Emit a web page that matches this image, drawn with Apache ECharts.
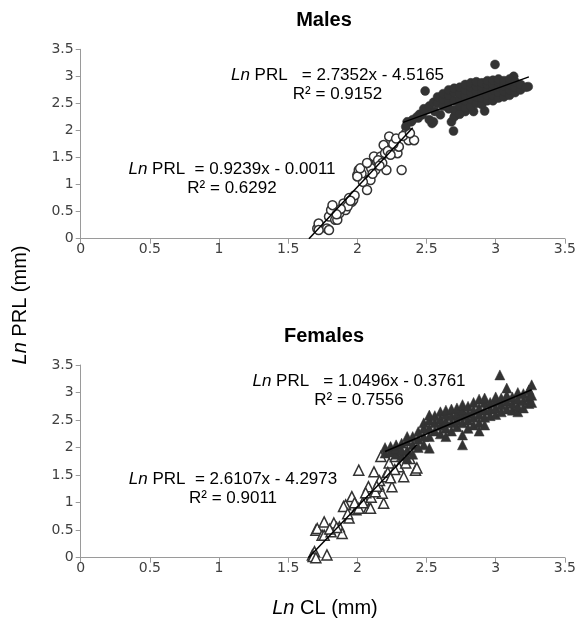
<!DOCTYPE html>
<html>
<head>
<meta charset="utf-8">
<script src="https://cdn.jsdelivr.net/npm/echarts@6/dist/echarts.min.js"></script>
<style>
  html, body { margin: 0; padding: 0; background: #fff; }
  #main { width: 579px; height: 621px; }
</style>
</head>
<body>
<div id="main"></div>
<script>
// axis ticks
var xTicks = [0, 0.5, 1, 1.5, 2, 2.5, 3, 3.5];
var yTicks = [0, 0.5, 1, 1.5, 2, 2.5, 3, 3.5];

// Males - juveniles (open circles)
var maleJuv = [[1.71,0.19],[1.72,0.28],[1.78,0.19],[1.795,0.16],[1.72,0.16],[1.795,0.41],[1.81,0.53],[1.82,0.62],
  [1.84,0.35],[1.855,0.35],[1.87,0.47],[1.90,0.65],[1.915,0.53],[1.94,0.75],[1.96,0.68],[1.93,0.60],[1.88,0.55],
  [1.97,0.72],[2.0,1.18],[2.01,1.27],[2.05,1.12],[2.06,1.24],[2.07,0.90],[2.095,1.085],[2.08,1.39],[2.12,1.52],
  [2.13,1.27],[2.155,1.39],[2.17,1.52],[2.19,1.73],[2.20,1.58],[2.21,1.27],[2.23,1.89],[2.25,1.67],[2.275,1.79],
  [2.29,1.58],[2.30,1.70],[2.32,1.27],[2.35,1.95],[2.37,1.82],[2.41,1.82],[2.03,1.20],[2.04,1.05],[2.10,1.30],
  [2.15,1.45],[2.18,1.40],[2.22,1.62],[2.26,1.75],[2.28,1.85],[2.24,1.55],[2.16,1.35],[2.11,1.20],[1.98,0.80],
  [1.95,0.70],[1.85,0.45],[2.33,1.90],[2.38,1.95],[2.0,1.15],[2.02,1.30],[2.07,1.40]];

// Males - adults (filled circles)
var maleAdult = [[2.995,3.22],[2.49,2.73],[3.13,3.0],[3.235,2.81],[2.92,2.36],[2.84,2.35],[2.695,1.99],[2.68,2.16],
  [2.71,2.29],[2.515,2.40],[2.50,2.38],[2.44,2.23],[2.47,2.29],[2.36,2.16],[2.35,2.07],[2.39,2.16],[2.54,2.13],
  [2.55,2.16],[2.60,2.29],[2.635,2.47],[2.67,2.595],[2.74,2.72],[2.78,2.35],
  [2.45,2.30],[2.48,2.40],[2.52,2.45],[2.55,2.52],[2.56,2.35],[2.43,2.25],[2.40,2.20],[2.52,2.20],
  [2.58,2.50],[2.58,2.62],[2.62,2.45],[2.62,2.58],[2.62,2.68],[2.66,2.40],[2.66,2.52],[2.66,2.65],[2.66,2.75],
  [2.70,2.25],[2.70,2.38],[2.70,2.55],[2.70,2.70],[2.70,2.78],[2.74,2.30],[2.74,2.45],[2.74,2.58],[2.74,2.68],[2.74,2.80],
  [2.78,2.42],[2.78,2.55],[2.78,2.65],[2.78,2.75],[2.78,2.85],[2.82,2.45],[2.82,2.58],[2.82,2.70],[2.82,2.80],[2.82,2.88],
  [2.86,2.50],[2.86,2.62],[2.86,2.72],[2.86,2.82],[2.86,2.90],[2.90,2.48],[2.90,2.60],[2.90,2.70],[2.90,2.80],[2.90,2.88],
  [2.94,2.55],[2.94,2.65],[2.94,2.75],[2.94,2.85],[2.94,2.92],[2.98,2.55],[2.98,2.65],[2.98,2.75],[2.98,2.85],[2.98,2.93],
  [3.02,2.60],[3.02,2.70],[3.02,2.80],[3.02,2.90],[3.02,2.95],[3.06,2.62],[3.06,2.72],[3.06,2.82],[3.06,2.92],
  [3.10,2.65],[3.10,2.75],[3.10,2.85],[3.10,2.95],[3.14,2.70],[3.14,2.80],[3.14,2.90],[3.18,2.75],[3.18,2.85],[3.22,2.80]];

// Females - juveniles (open triangles)
var femJuv = [[1.675,0.05],[1.69,0.11],[1.68,0.02],[1.70,0.0],[1.78,0.05],[1.70,0.50],[1.71,0.53],[1.76,0.65],
  [1.745,0.41],[1.76,0.41],[1.81,0.47],[1.83,0.63],[1.87,0.56],[1.89,0.44],[1.915,0.96],[1.90,0.93],[1.94,0.72],
  [1.99,0.87],[2.01,0.90],[1.96,1.11],[1.93,0.80],[2.01,1.59],[2.12,1.56],[2.19,0.99],[2.08,0.9],[2.05,1.05],
  [2.08,1.29],[2.095,0.90],[2.155,1.32],[2.18,1.17],[2.25,1.29],[2.20,1.47],[2.335,1.47],[2.42,1.59],[2.43,1.63],
  [2.30,1.65],[2.35,1.72],[2.23,1.72],[2.17,1.84],[2.275,1.84],[2.04,1.00],[2.10,1.10],[2.13,1.20],[2.16,1.40],
  [2.22,1.55],[2.27,1.60],[2.38,1.80],[2.32,1.90],[1.85,0.55],[1.80,0.52],[1.98,1.0],[2.06,1.18],[2.14,1.30],[2.24,1.45]];

// Females - adults (filled triangles)
var femAdult = [[2.20,1.90],[2.20,2.00],[2.24,1.92],[2.24,2.02],[2.28,1.88],[2.28,1.98],[2.28,2.05],[2.32,1.85],
  [2.32,1.95],[2.32,2.08],[2.36,1.80],[2.36,1.95],[2.36,2.12],[2.36,2.20],[2.40,1.88],[2.40,2.05],[2.40,2.20],
  [2.44,2.00],[2.44,2.15],[2.44,2.29],[2.48,2.05],[2.48,2.20],[2.48,2.35],[2.48,2.45],[2.52,1.99],[2.52,2.20],
  [2.52,2.35],[2.52,2.50],[2.52,2.59],[2.56,2.30],[2.56,2.45],[2.56,2.58],[2.60,2.25],[2.60,2.40],[2.60,2.52],
  [2.60,2.65],[2.64,2.20],[2.64,2.35],[2.64,2.48],[2.64,2.60],[2.64,2.68],[2.68,2.30],[2.68,2.45],[2.68,2.58],
  [2.68,2.70],[2.72,2.38],[2.72,2.50],[2.72,2.62],[2.72,2.72],[2.76,2.05],[2.76,2.23],[2.76,2.45],[2.76,2.58],
  [2.76,2.68],[2.76,2.78],[2.80,2.35],[2.80,2.50],[2.80,2.62],[2.80,2.75],[2.84,2.41],[2.84,2.55],[2.84,2.68],
  [2.84,2.82],[2.88,2.30],[2.88,2.45],[2.88,2.60],[2.88,2.72],[2.88,2.88],[2.92,2.41],[2.92,2.55],[2.92,2.68],
  [2.92,2.82],[2.92,2.90],[2.96,2.58],[2.96,2.70],[2.96,2.82],[3.00,2.60],[3.00,2.72],[3.00,2.85],[3.00,2.92],
  [3.04,2.65],[3.04,2.78],[3.04,2.90],[3.03,3.32],[3.08,2.70],[3.08,2.84],[3.08,2.95],[3.08,3.08],[3.12,2.68],
  [3.12,2.80],[3.12,2.92],[3.16,2.65],[3.16,2.75],[3.16,2.88],[3.16,3.00],[3.20,2.72],[3.20,2.85],[3.20,2.98],
  [3.24,2.80],[3.24,2.92],[3.24,3.05],[3.26,2.82],[3.26,2.95],[3.26,3.14]];

// trend line end points
var maleFitJuv = [[1.65, 0], [2.40, 2.05]];
var maleFitAdult = [[2.33, 2.15], [3.24, 2.99]];
var femFitJuv = [[1.646, 0], [2.43, 2.05]];
var femFitAdult = [[2.20, 1.93], [3.26, 3.05]];

var chart = echarts.init(document.getElementById('main'));

var axisColor = '#9a9a9a';
function xAxisCfg(idx) {
  return {
    type: 'value', gridIndex: idx, min: xTicks[0], max: xTicks[xTicks.length - 1], interval: 0.5,
    axisLine: { show: true, onZero: false, lineStyle: { color: axisColor, width: 1 } },
    axisTick: { show: true, length: 5, lineStyle: { color: axisColor } },
    splitLine: { show: false },
    axisLabel: { color: '#404040', fontFamily: 'DejaVu Sans', fontSize: 14, margin: 4 }
  };
}
function yAxisCfg(idx) {
  return {
    type: 'value', gridIndex: idx, min: yTicks[0], max: yTicks[yTicks.length - 1], interval: 0.5,
    axisLine: { show: true, onZero: false, lineStyle: { color: axisColor, width: 1 } },
    axisTick: { show: true, length: 5, lineStyle: { color: axisColor } },
    splitLine: { show: false },
    axisLabel: { color: '#404040', fontFamily: 'DejaVu Sans', fontSize: 14, margin: 7 }
  };
}

var openStyle = { color: '#fff', borderColor: '#333', borderWidth: 1.5, opacity: 1 };
var fillStyle = { color: '#333', borderColor: '#333', borderWidth: 0.5, opacity: 1 };
var fitLine = { color: '#000', width: 1.5 };

function eq(txt, r2) {
  return '{i|Ln} PRL' + txt + '\n' + r2;
}
var eqStyle = { fontFamily: 'Liberation Sans', fontSize: 17, fill: '#000', textAlign: 'center', textVerticalAlign: 'middle',
  lineHeight: 19, rich: { i: { fontStyle: 'italic', fontFamily: 'Liberation Sans', fontSize: 17 } } };

option = {
  animation: false,
  backgroundColor: '#fff',
  grid: [
    { left: 80.7, right: 12.3, top: 49.3, height: 189.4 },
    { left: 80.7, right: 12.3, top: 365, height: 192.7 }
  ],
  xAxis: [xAxisCfg(0), xAxisCfg(1)],
  yAxis: [yAxisCfg(0), yAxisCfg(1)],
  graphic: [
    { type: 'text', x: 324, y: 20, style: { text: 'Males', fontFamily: 'Liberation Sans', fontWeight: 'bold', fontSize: 20, fill: '#000', textAlign: 'center', textVerticalAlign: 'middle' } },
    { type: 'text', x: 324, y: 336, style: { text: 'Females', fontFamily: 'Liberation Sans', fontWeight: 'bold', fontSize: 20, fill: '#000', textAlign: 'center', textVerticalAlign: 'middle' } },
    { type: 'text', x: 337.5, y: 84.5, z: 100, style: Object.assign({ text: eq('   = 2.7352x - 4.5165', 'R\u00b2 = 0.9152') }, eqStyle) },
    { type: 'text', x: 232, y: 178.5, z: 100, style: Object.assign({ text: eq('  = 0.9239x - 0.0011', 'R\u00b2 = 0.6292') }, eqStyle) },
    { type: 'text', x: 359, y: 390.5, z: 100, style: Object.assign({ text: eq('   = 1.0496x - 0.3761', 'R\u00b2 = 0.7556') }, eqStyle) },
    { type: 'text', x: 233, y: 488.5, z: 100, style: Object.assign({ text: eq('  = 2.6107x - 4.2973', 'R\u00b2 = 0.9011') }, eqStyle) },
    { type: 'text', x: 325, y: 608, style: { text: '{i|Ln} CL (mm)', fontFamily: 'Liberation Sans', fontSize: 20, fill: '#000', textAlign: 'center', textVerticalAlign: 'middle',
      rich: { i: { fontStyle: 'italic', fontFamily: 'Liberation Sans', fontSize: 20 } } } },
    { type: 'text', x: 20, y: 305, rotation: Math.PI / 2, style: { text: '{i|Ln} PRL (mm)', fontFamily: 'Liberation Sans', fontSize: 20, fill: '#000', textAlign: 'center', textVerticalAlign: 'middle',
      rich: { i: { fontStyle: 'italic', fontFamily: 'Liberation Sans', fontSize: 20 } } } }
  ],
  series: [
    { type: 'scatter', xAxisIndex: 0, yAxisIndex: 0, symbol: 'circle', symbolSize: 9, data: maleJuv, itemStyle: openStyle },
    { type: 'scatter', xAxisIndex: 0, yAxisIndex: 0, symbol: 'circle', symbolSize: 9, data: maleAdult, itemStyle: fillStyle },
    { type: 'line', xAxisIndex: 0, yAxisIndex: 0, data: maleFitJuv, showSymbol: false, lineStyle: fitLine, z: 5 },
    { type: 'line', xAxisIndex: 0, yAxisIndex: 0, data: maleFitAdult, showSymbol: false, lineStyle: fitLine, z: 5 },
    { type: 'scatter', xAxisIndex: 1, yAxisIndex: 1, symbol: 'triangle', symbolSize: 10, data: femJuv, itemStyle: openStyle },
    { type: 'scatter', xAxisIndex: 1, yAxisIndex: 1, symbol: 'triangle', symbolSize: 10, data: femAdult, itemStyle: fillStyle },
    { type: 'line', xAxisIndex: 1, yAxisIndex: 1, data: femFitJuv, showSymbol: false, lineStyle: fitLine, z: 5 },
    { type: 'line', xAxisIndex: 1, yAxisIndex: 1, data: femFitAdult, showSymbol: false, lineStyle: fitLine, z: 5 }
  ]
};
chart.setOption(option);
</script>
</body>
</html>
